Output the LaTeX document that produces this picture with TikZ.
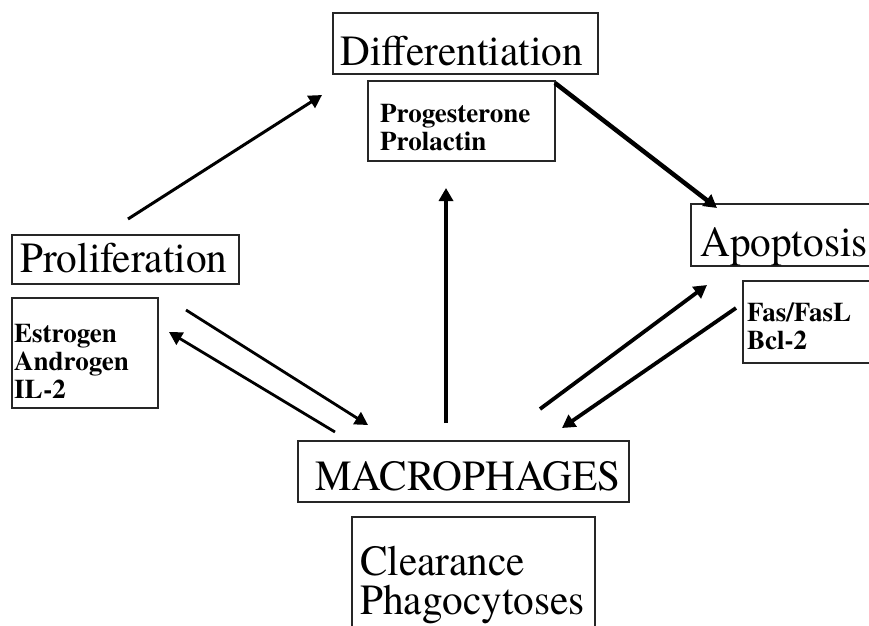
\documentclass[tikz,border=0pt]{standalone}
\usepackage{fontspec}
\setmainfont{TeX Gyre Termes}
\usetikzlibrary{arrows.meta}
\newcommand\narrowtxt[1]{\scalebox{0.96}[1]{#1}}
\begin{document}
\begin{tikzpicture}[x=1pt,y=-1pt,
  box/.style={draw=black!85, line width=1.4pt, rectangle, inner sep=0pt},
  big/.style={inner sep=0pt, anchor=base west, font=\rmfamily\fontsize{43}{37}\selectfont},
  small/.style={inner sep=0pt, anchor=base west, font=\rmfamily\fontsize{27}{28}\selectfont\bfseries},
  arr/.style={-{Triangle[length=13pt,width=14pt]}, line width=3pt, black}]
\useasboundingbox (0,0) rectangle (869,625);
\clip (0,0) rectangle (869,625);
\fill[white] (0,0) rectangle (869,625);

% boxes
\node[box, minimum width=265pt, minimum height=61pt] (diff) at (465.5,43.5) {};
\node[box, minimum width=187pt, minimum height=80pt] (prog) at (461.5,121) {};
\node[box, minimum width=227pt, minimum height=49pt] (prolif) at (125.5,259.5) {};
\node[box, minimum width=146pt, minimum height=110pt] (estr) at (85,353) {};
\node[box, minimum width=200pt, minimum height=62pt] (apop) at (791,235) {};
\node[box, minimum width=150pt, minimum height=82pt] (fas) at (818,322) {};
\node[box, minimum width=331pt, minimum height=61pt] (macro) at (463.5,471.5) {};
\node[box, minimum width=243pt, minimum height=190pt] (clear) at (473.5,612) {};

% texts
\node[big] (difft) at (340,65) {\narrowtxt{Differentiation}};
\node[small] (progt) at (380,122) {\vtop{\hbox{Progesterone}\hbox{Prolactin}}};
\node[big] (prolift) at (20,272) {\narrowtxt{Proliferation}};
\node[small] (estrt) at (14,342) {\vtop{\hbox{Estrogen}\hbox{Androgen}\hbox{IL-2}}};
\node[big] (apopt) at (700,256) {\narrowtxt{Apoptosis}};
\node[small] (fast) at (747,321) {\vtop{\hbox{Fas/FasL}\hbox{Bcl-2}}};
\node[big] (macrot) at (315,490) {\narrowtxt{MACROPHAGES}};
\node[big] (cleart) at (360,575) {\narrowtxt{Clearance}};
\node[big] (phagt) at (360,614) {\narrowtxt{Phagocytoses}};

% connector end points
\coordinate (a1s) at (128,219);  \coordinate (a1e) at (322,95);
\coordinate (a2s) at (555,83);   \coordinate (a2e) at (717,208);
\coordinate (a3s) at (446,423);  \coordinate (a3e) at (446,188);
\coordinate (a4s) at (186,310);  \coordinate (a4e) at (368,425);
\coordinate (a5s) at (335,432);  \coordinate (a5e) at (169,332);
\coordinate (a6s) at (540,409);  \coordinate (a6e) at (707,285);
\coordinate (a7s) at (736,308);  \coordinate (a7e) at (562,428);

\draw[arr] (a1s) -- (a1e);
\draw[arr, line width=4.5pt] (a2s) -- (a2e);
\draw[arr, line width=3.4pt] (a3s) -- (a3e);
\draw[arr, line width=2.8pt] (a4s) -- (a4e);
\draw[arr, line width=2.8pt] (a5s) -- (a5e);
\draw[arr, line width=3.8pt] (a6s) -- (a6e);
\draw[arr, line width=3.8pt] (a7s) -- (a7e);
\end{tikzpicture}
\end{document}
